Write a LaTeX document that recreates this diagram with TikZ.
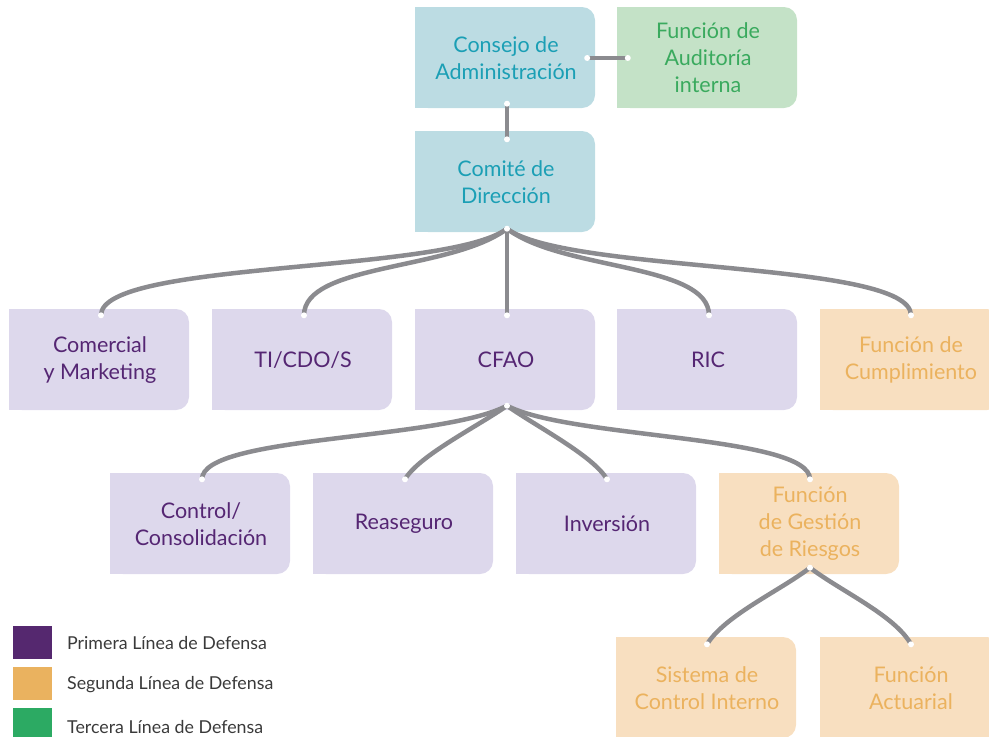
\documentclass[tikz,border=0pt]{standalone}
\usepackage{fontspec}
\setmainfont{Lato}
\usetikzlibrary{calc}
\definecolor{bluefill}{HTML}{BCDCE3}
\definecolor{bluetext}{HTML}{1B9FB5}
\definecolor{greenfill}{HTML}{C4E2C7}
\definecolor{greentext}{HTML}{3AAA5E}
\definecolor{purpfill}{HTML}{DDD8EC}
\definecolor{purptext}{HTML}{552673}
\definecolor{orgfill}{HTML}{F8DFC0}
\definecolor{orgtext}{HTML}{EBB25E}
\definecolor{conn}{HTML}{8B8B8F}
\definecolor{legpurple}{HTML}{55286F}
\definecolor{legorange}{HTML}{EAB25F}
\definecolor{leggreen}{HTML}{2CAA63}
\definecolor{legtext}{HTML}{3A3A3A}
\tikzset{
  orgbox/.style={minimum width=180pt, minimum height=101pt, inner sep=0pt, align=center,
    font=\fontsize{21.5}{27}\selectfont},
  link/.style={draw=conn, line width=4.5pt, line cap=round},
  legsq/.style={minimum width=39pt, minimum height=33pt, inner sep=0pt},
  legtxt/.style={anchor=west, inner sep=0pt, text=legtext, font=\fontsize{17.8}{20}\selectfont},
}
\newcommand\mkbox[6]{%
  \fill[#4, rounded corners=13pt] (#2,#3) rectangle ++(180,101);
  \fill[#4] (#2,#3) rectangle ++(40,101);
  \node[orgbox, text=#5] (#1) at (#2+91,#3+51) {#6};
}
\newcommand\wdot[1]{\fill[white] (#1) circle (3pt);}
\begin{document}
\begin{tikzpicture}[x=1pt, y=-1pt]
\useasboundingbox (0,0) rectangle (989,737);
\clip (0,0) rectangle (989,737);
% boxes
\mkbox{cons}{415}{7}{bluefill}{bluetext}{Consejo de\\Administración}
\mkbox{aud}{617}{7}{greenfill}{greentext}{Función de\\Auditoría\\interna}
\mkbox{comite}{415}{131}{bluefill}{bluetext}{Comité de\\Dirección}
\mkbox{com}{9}{309}{purpfill}{purptext}{Comercial\\y Marketing}
\mkbox{ti}{212}{309}{purpfill}{purptext}{TI/CDO/S}
\mkbox{cfao}{415}{309}{purpfill}{purptext}{CFAO}
\mkbox{ric}{617}{309}{purpfill}{purptext}{RIC}
\mkbox{cump}{820}{309}{orgfill}{orgtext}{Función de\\Cumplimiento}
\mkbox{ctrl}{110}{473}{purpfill}{purptext}{Control/\\Consolidación}
\mkbox{rea}{313}{473}{purpfill}{purptext}{Reaseguro}
\mkbox{inv}{516}{473}{purpfill}{purptext}{Inversión}
\mkbox{ges}{719}{473}{orgfill}{orgtext}{Función\\de Gestión\\de Riesgos}
\mkbox{sci}{616}{637}{orgfill}{orgtext}{Sistema de\\Control Interno}
\mkbox{act}{820}{637}{orgfill}{orgtext}{Función\\Actuarial}
% connector points
\coordinate (consE) at ($(cons.east)+(-9,0)$);
\coordinate (audW) at ($(aud.west)+(10,0)$);
\coordinate (consS) at ($(cons.south)+(1,-5)$);
\coordinate (comN) at ($(comite.north)+(1,8)$);
\coordinate (hubA) at ($(comite.south)+(1,-4)$);
\coordinate (tCom) at ($(com.north)+(1,6)$);
\coordinate (tTi) at ($(ti.north)+(1,6)$);
\coordinate (tCfao) at ($(cfao.north)+(1,6)$);
\coordinate (tRic) at ($(ric.north)+(1,6)$);
\coordinate (tCump) at ($(cump.north)+(0,6)$);
\coordinate (hubB) at ($(cfao.south)+(1,-5)$);
\coordinate (tCtrl) at ($(ctrl.north)+(1,6)$);
\coordinate (tRea) at ($(rea.north)+(1,6)$);
\coordinate (tInv) at ($(inv.north)+(0,6)$);
\coordinate (tGes) at ($(ges.north)+(0,6)$);
\coordinate (hubC) at ($(ges.south)+(0,-7)$);
\coordinate (tSci) at ($(sci.north)+(0,7)$);
\coordinate (tAct) at ($(act.north)+(0,7)$);
% connectors
\draw[link] (consE) -- (audW);
\draw[link] (consS) -- (comN);
\draw[link] (hubA) -- (tCfao);
\draw[link] (hubA) .. controls +(-60,45) and +(0,-55) .. (tCom);
\draw[link] (hubA) .. controls +(-55,42) and +(0,-52) .. (tTi);
\draw[link] (hubA) .. controls +(55,42) and +(0,-52) .. (tRic);
\draw[link] (hubA) .. controls +(60,45) and +(0,-55) .. (tCump);
\draw[link] (hubB) .. controls +(-67,35) and +(0,-44) .. (tCtrl);
\draw[link] (hubB) .. controls +(-28,20) and +(14,-24) .. (tRea);
\draw[link] (hubB) .. controls +(28,20) and +(-14,-24) .. (tInv);
\draw[link] (hubB) .. controls +(63,33) and +(0,-44) .. (tGes);
\draw[link] (hubC) .. controls +(-30,23) and +(18,-29) .. (tSci);
\draw[link] (hubC) .. controls +(30,23) and +(-16,-29) .. (tAct);
\foreach \p in {consE,audW,consS,comN,hubA,tCom,tTi,tCfao,tRic,tCump,hubB,tCtrl,tRea,tInv,tGes,hubC,tSci,tAct}{\wdot{\p}}
% legend
\node[legsq, fill=legpurple] (l1) at (32.5,642.5) {};
\node[legsq, fill=legorange] (l2) at (32.5,683.5) {};
\node[legsq, fill=leggreen] (l3) at (32.5,724.5) {};
\node[legtxt] (t1) at (67,643) {Primera Línea de Defensa};
\node[legtxt] (t2) at (67,685) {Segunda Línea de Defensa};
\node[legtxt] (t3) at (67,727) {Tercera Línea de Defensa};
\end{tikzpicture}
\end{document}
